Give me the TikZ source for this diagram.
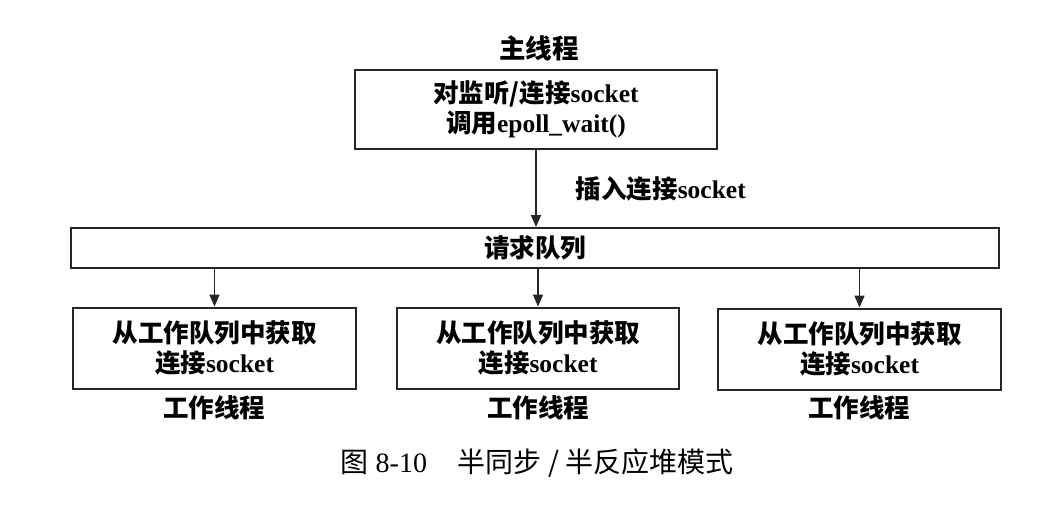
\documentclass[tikz,border=0pt]{standalone}
\usepackage{fontspec}
\setmainfont{Liberation Serif}
\newfontfamily\cjk{Noto Sans CJK SC}
\usetikzlibrary{arrows.meta}
\newcommand{\zh}[1]{{\cjk #1}}
\begin{document}
\begin{tikzpicture}[x=1pt,y=-1pt,
  box/.style={draw=black!85, line width=2pt, inner sep=0pt, align=center,
    font=\bfseries\fontsize{25.5}{30}\selectfont},
  lbl/.style={inner sep=0pt, font=\bfseries\fontsize{25.5}{30}\selectfont},
  conn/.style={draw=black!85, line width=1.6pt, -{Triangle[length=12pt,width=10pt]}}]
\useasboundingbox (0,0) rectangle (1046,504);
\node[box, minimum width=362pt, minimum height=79pt] (main) at (536,109.5)
  {\zh{对监听/连接}socket\\ \zh{调用}epoll\_wait()};
\node[lbl, font=\bfseries\fontsize{26.5}{30}\selectfont] (mainlbl) at (539,48) {\zh{主线程}};
\node[box, minimum width=928pt, minimum height=40pt] (queue) at (535,248) {\zh{请求队列}};
\node[box, minimum width=283pt, minimum height=81pt] (w1) at (214.5,348)
  {\zh{从工作队列中获取}\\ \zh{连接}socket};
\node[box, minimum width=282pt, minimum height=81pt] (w2) at (538,348)
  {\zh{从工作队列中获取}\\ \zh{连接}socket};
\node[box, minimum width=283pt, minimum height=81pt] (w3) at (859.5,349)
  {\zh{从工作队列中获取}\\ \zh{连接}socket};
\node[lbl] (l1) at (214,408) {\zh{工作线程}};
\node[lbl] (l2) at (538,408) {\zh{工作线程}};
\node[lbl] (l3) at (859,408) {\zh{工作线程}};
\draw[conn] (main.south) -- (queue.north -| main.south)
  node[midway, right=39pt, lbl] (ins) {\zh{插入连接}socket};
\draw[conn] (queue.south -| w1.north) -- (w1.north);
\draw[conn] (queue.south -| w2.north) -- (w2.north);
\draw[conn] (queue.south -| w3.north) -- (w3.north);
\node[inner sep=0pt, font=\fontsize{28}{30}\selectfont] (cap) at (537,463)
  {\zh{图} 8-10\hspace{1.1em}\zh{半同步 / 半反应堆模式}};
\end{tikzpicture}
\end{document}
